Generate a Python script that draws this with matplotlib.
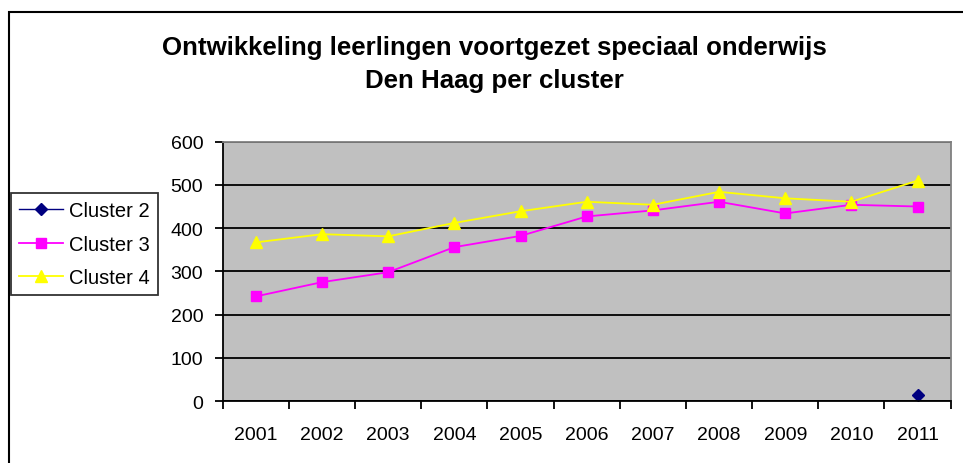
import matplotlib.pyplot as plt
import numpy as np
from matplotlib.patches import Rectangle

plt.rcParams['font.family'] = ['Liberation Sans', 'DejaVu Sans']

# data
years = ['2001', '2002', '2003', '2004', '2005', '2006',
         '2007', '2008', '2009', '2010', '2011']
cluster2 = [np.nan] * 10 + [14]
cluster3 = [242, 275, 298, 356, 382, 427, 441, 461, 434, 454, 450]
cluster4 = [367, 386, 381, 412, 439, 461, 454, 484, 469, 461, 510]

fig = plt.figure(figsize=(9.63, 4.64), dpi=100)
ax = fig.add_axes([0.2313, 0.1336, 0.9872 - 0.2313, 0.6925 - 0.1336])
ax.set_facecolor('#C0C0C0')

x = np.arange(1, len(years) + 1)
ax.plot(x, cluster2, color='#000080', marker='D', markersize=6.5, lw=1, label='Cluster 2')
ax.plot(x, cluster3, color='#FF00FF', marker='s', markersize=7, lw=1.3, label='Cluster 3')
ax.plot(x, cluster4, color='#FFFF00', marker='^', markersize=9, lw=1.3, label='Cluster 4')

ax.set_ylim(0, 600)
ax.set_yticks(range(0, 601, 100))
ax.yaxis.grid(True, color='black', lw=1.3)
ax.set_axisbelow(True)

# categories sit between the tick marks, Excel style
ax.set_xlim(0.5, len(years) + 0.5)
ax.set_xticks(np.arange(0.5, len(years) + 1, 1))
ax.set_xticklabels([])
ax.set_xticks(x, minor=True)
ax.set_xticklabels(years, minor=True)
ax.tick_params(axis='x', which='minor', length=0, pad=18, labelsize=14)
ax.tick_params(axis='x', which='major', length=6, width=1.3, direction='out')
ax.tick_params(axis='y', length=6, width=1.3, direction='out', labelsize=14, pad=8)

for side in ['top', 'right']:
    ax.spines[side].set_color('#808080')
    ax.spines[side].set_linewidth(1.3)
for side in ['left', 'bottom']:
    ax.spines[side].set_color('black')
    ax.spines[side].set_linewidth(1.3)

fig.text(0.513, 0.8966, 'Ontwikkeling leerlingen voortgezet speciaal onderwijs',
         ha='center', va='center', fontsize=18.6, fontweight='bold')
fig.text(0.513, 0.8254, 'Den Haag per cluster',
         ha='center', va='center', fontsize=18.6, fontweight='bold')

leg = fig.legend(loc='upper left', bbox_to_anchor=(11 / 963, 1 - 194 / 464),
                 fontsize=14.5, frameon=True, fancybox=False, edgecolor='black',
                 borderpad=0.4, labelspacing=0.72, handlelength=2.2,
                 handletextpad=0.3, borderaxespad=0)
leg.get_frame().set_linewidth(1.3)

# outer chart border
fig.patches.append(Rectangle((9 / 963, -0.1), 1.1, 1 - 13 / 464 + 0.1,
                             transform=fig.transFigure, fill=False,
                             edgecolor='black', lw=1.5))

fig.savefig('out.png', dpi=100)
